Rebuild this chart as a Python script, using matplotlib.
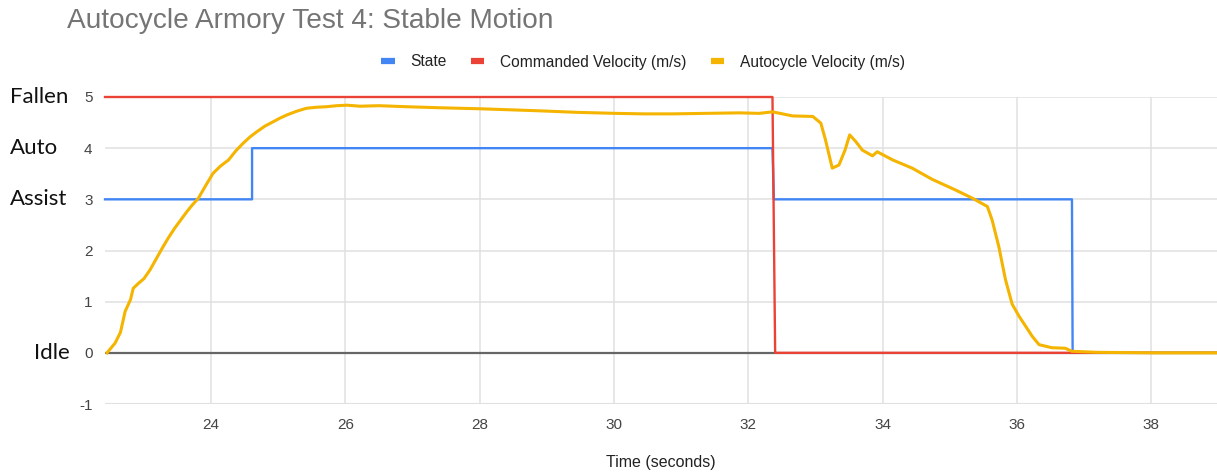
import matplotlib
matplotlib.use("Agg")
import matplotlib.pyplot as plt
from matplotlib.lines import Line2D

# --- data -------------------------------------------------------------
title = "Autocycle Armory Test 4: Stable Motion"
series_names = ["State", "Commanded Velocity (m/s)", "Autocycle Velocity (m/s)"]
state_labels = {5: "Fallen", 4: "Auto", 3: "Assist", 0: "Idle"}

state_t = [22.42, 24.61, 24.61, 32.36, 32.38, 36.82, 36.83, 39.0]
state_v = [3, 3, 4, 4, 3, 3, 0, 0]

cmd_t = [22.42, 32.36, 32.40, 39.0]
cmd_v = [5, 5, 0, 0]

auto_t = [22.45, 22.57, 22.65, 22.72, 22.80, 22.84, 22.92, 23.00, 23.09, 23.18,
          23.27, 23.36, 23.46, 23.55, 23.64, 23.72, 23.81, 23.92, 24.03, 24.14,
          24.26, 24.37, 24.48, 24.58, 24.68, 24.80, 24.93, 25.03, 25.13, 25.27,
          25.42, 25.57, 25.72, 25.87, 26.02, 26.22, 26.50, 26.91, 27.40, 28.00,
          28.45, 28.89, 29.45, 30.03, 30.45, 30.87, 31.35, 31.87, 32.16, 32.36,
          32.66, 32.96, 33.08, 33.15, 33.25, 33.35, 33.44, 33.51, 33.60, 33.70,
          33.85, 33.92, 34.15, 34.44, 34.74, 35.09, 35.34, 35.56, 35.63, 35.73,
          35.83, 35.93, 36.03, 36.13, 36.23, 36.33, 36.52, 36.72, 36.82, 37.20,
          38.00, 39.00]
auto_v = [0.00, 0.19, 0.40, 0.81, 1.04, 1.26, 1.36, 1.45, 1.62, 1.83,
          2.04, 2.24, 2.44, 2.60, 2.76, 2.89, 3.02, 3.27, 3.51, 3.65,
          3.77, 3.95, 4.10, 4.22, 4.32, 4.43, 4.52, 4.59, 4.65, 4.72,
          4.78, 4.80, 4.81, 4.83, 4.84, 4.82, 4.83, 4.81, 4.79, 4.77,
          4.75, 4.73, 4.70, 4.68, 4.67, 4.67, 4.68, 4.69, 4.68, 4.71,
          4.63, 4.62, 4.49, 4.16, 3.61, 3.67, 3.96, 4.26, 4.13, 3.96,
          3.85, 3.93, 3.77, 3.61, 3.39, 3.18, 3.02, 2.86, 2.60, 2.08,
          1.43, 0.95, 0.72, 0.52, 0.32, 0.16, 0.10, 0.09, 0.03, 0.01,
          0.00, 0.00]

x_ticks = [24, 26, 28, 30, 32, 34, 36, 38]
y_ticks = [-1, 0, 1, 2, 3, 4, 5]

colors = ["#4285F4", "#EA4335", "#F4B400"]

# --- figure -----------------------------------------------------------
plt.rcParams["font.family"] = ["Liberation Sans", "DejaVu Sans"]
plt.rcParams["axes.unicode_minus"] = False
fig = plt.figure(figsize=(12.17, 4.75), dpi=100)
ax = fig.add_axes([105 / 1217, 71 / 475, 1112 / 1217, 307 / 475])

ax.set_xlim(22.42, 38.98)
ax.set_ylim(-1, 5)
ax.set_xticks(x_ticks)
ax.set_yticks(y_ticks)
ax.grid(True, color="#e0e0e0", lw=1.1)
ax.set_axisbelow(True)
for s in ax.spines.values():
    s.set_visible(False)
ax.tick_params(length=0, labelsize=11, colors="#444444")
ax.tick_params(axis="y", pad=9)
ax.tick_params(axis="x", pad=10)
ax.axhline(-1, color="#e0e0e0", lw=1.5, zorder=1)
ax.axhline(0, color="#666666", lw=1.6, zorder=1.5)

ax.plot(state_t, state_v, color=colors[0], lw=1.7, zorder=3, clip_on=False)
ax.plot(cmd_t, cmd_v, color=colors[1], lw=1.7, zorder=3, clip_on=False)
ax.plot(auto_t, auto_v, color=colors[2], lw=2.2, zorder=4, clip_on=False)

ax.set_xlabel("Time (seconds)", fontsize=11.5, color="#222222", labelpad=17)

# state names beside the y axis
for val, name in state_labels.items():
    yfig = ax.transData.transform((0, val))[1]
    if name == "Idle":
        fig.text(70 / 1217, yfig / 475, name, fontsize=16, family="Lato",
                 color="#111111", ha="right", va="center")
    else:
        fig.text(10 / 1217, yfig / 475, name, fontsize=16, family="Lato",
                 color="#111111", ha="left", va="center")

fig.text(67 / 1217, 1 - 21 / 475, title, fontsize=20.2, color="#757575",
         ha="left", va="center")

handles = [Line2D([], [], color=c, lw=4.5, solid_capstyle="butt") for c in colors]
fig.legend(handles, series_names, loc="center", bbox_to_anchor=(643 / 1217, 1 - 62 / 475),
           ncol=3, frameon=False, fontsize=11.2, handlelength=0.87, handletextpad=1.0,
           columnspacing=1.55, labelcolor="#222222")

fig.savefig("out.png", dpi=100)
